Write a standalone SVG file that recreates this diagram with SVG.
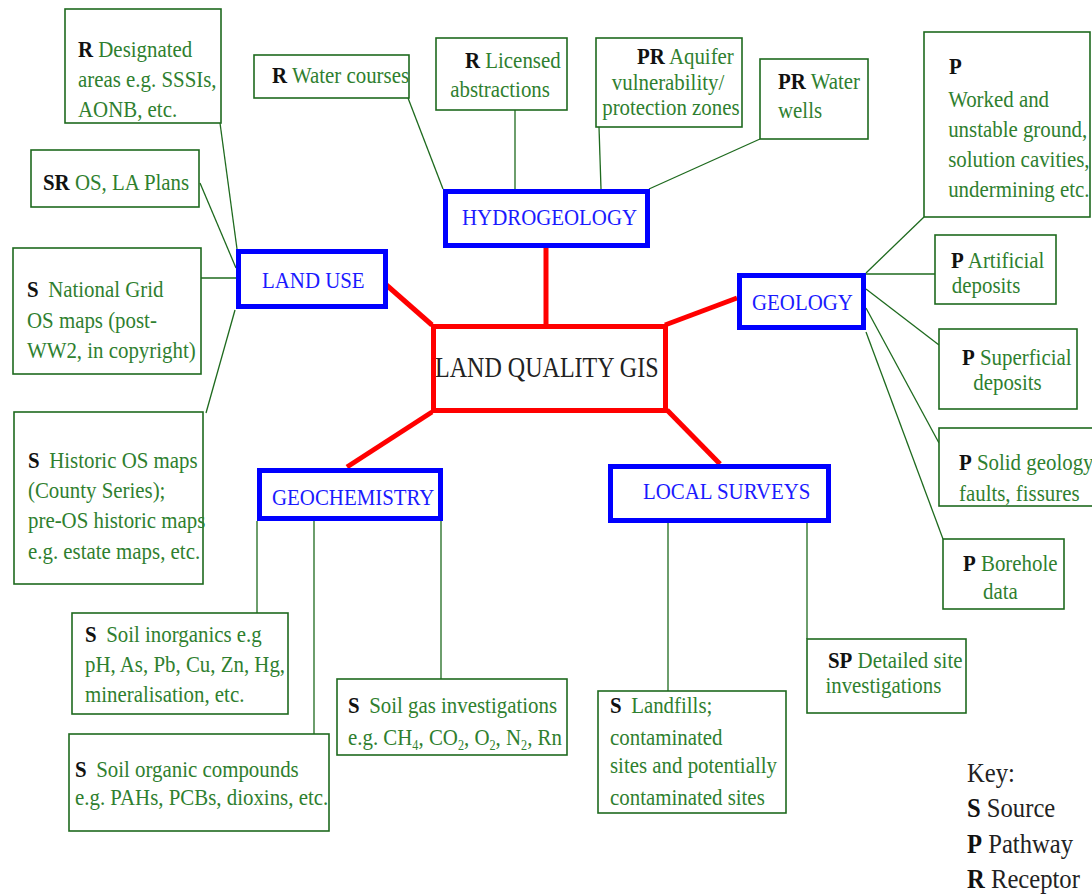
<svg xmlns="http://www.w3.org/2000/svg" width="1092" height="894" viewBox="0 0 1092 894">
<style>
.box{fill:#fff;stroke:#1e6a1e;stroke-width:1.6}
.hub{fill:#fff;stroke:#0000ff;stroke-width:5}
.core{fill:#fff;stroke:#ff0000;stroke-width:5}
.t{font-family:"Liberation Serif","Times New Roman",serif;font-size:24px;fill:#2f7f2f}
.b{font-weight:bold;fill:#111}
.ht{font-family:"Liberation Serif","Times New Roman",serif;font-size:24px;fill:#1a1aff}
.ct{font-family:"Liberation Serif","Times New Roman",serif;font-size:29px;fill:#222}
.kt{font-family:"Liberation Serif","Times New Roman",serif;font-size:28px;fill:#222}
.sub{font-size:14px}
.gl{stroke:#1e6a1e;stroke-width:1.3;fill:none}
.rl{stroke:#ff0000;stroke-width:5;fill:none}
</style>
<rect width="1092" height="894" fill="#fff"/>
<g id="connectors">
<line class="gl" x1="220" y1="123" x2="237" y2="249"/>
<line class="gl" x1="200" y1="183" x2="236" y2="268"/>
<line class="gl" x1="198" y1="278" x2="236" y2="278"/>
<line class="gl" x1="235" y1="310" x2="206" y2="413"/>
<line class="gl" x1="408" y1="98" x2="443" y2="189"/>
<line class="gl" x1="515" y1="110" x2="515" y2="189"/>
<line class="gl" x1="599" y1="127" x2="601" y2="189"/>
<line class="gl" x1="760" y1="139" x2="649" y2="189"/>
<line class="gl" x1="924" y1="217" x2="866" y2="273"/>
<line class="gl" x1="866" y1="274" x2="935" y2="274"/>
<line class="gl" x1="866" y1="289" x2="939" y2="345"/>
<line class="gl" x1="866" y1="308" x2="939" y2="443"/>
<line class="gl" x1="866" y1="332" x2="943" y2="539"/>
<line class="gl" x1="257" y1="521" x2="257" y2="613"/>
<line class="gl" x1="314" y1="521" x2="314" y2="734"/>
<line class="gl" x1="441" y1="521" x2="441" y2="679"/>
<line class="gl" x1="668" y1="523" x2="668" y2="691"/>
<line class="gl" x1="807" y1="516" x2="807" y2="639"/>
<line class="rl" x1="383" y1="282" x2="432" y2="325"/>
<line class="rl" x1="546" y1="248" x2="546" y2="326"/>
<line class="rl" x1="665" y1="325" x2="737" y2="298"/>
<line class="rl" x1="432" y1="412" x2="347" y2="467"/>
<line class="rl" x1="667" y1="410" x2="720" y2="464"/>
</g>
<g id="n-designated">
<rect class="box" x="65" y="9" width="156" height="114"/>
<text class="t" transform="translate(78 0) scale(.87 1)"><tspan x="0" y="57"><tspan class="b">R</tspan> Designated</tspan><tspan x="0" y="87">areas e.g. SSSIs,</tspan><tspan x="0" y="117">AONB, etc.</tspan></text>
</g>
<g id="n-watercourses">
<rect class="box" x="254" y="55" width="155" height="43"/>
<text class="t" transform="translate(272 0) scale(.87 1)"><tspan x="0" y="83"><tspan class="b">R</tspan> Water courses</tspan></text>
</g>
<g id="n-osplans">
<rect class="box" x="31" y="150" width="168" height="57"/>
<text class="t" transform="translate(43 0) scale(.87 1)"><tspan x="0" y="190"><tspan class="b">SR</tspan> OS, LA Plans</tspan></text>
</g>
<g id="n-nationalgrid">
<rect class="box" x="13" y="248" width="188" height="126"/>
<text class="t" transform="translate(27 0) scale(.87 1)"><tspan x="0" y="297"><tspan class="b">S</tspan><tspan dx="5"> National Grid</tspan></tspan><tspan x="0" y="328">OS maps (post-</tspan><tspan x="0" y="358">WW2, in copyright)</tspan></text>
</g>
<g id="n-historic">
<rect class="box" x="14" y="412" width="189" height="172"/>
<text class="t" transform="translate(28 0) scale(.87 1)"><tspan x="0" y="468"><tspan class="b">S</tspan><tspan dx="5"> Historic OS maps</tspan></tspan><tspan x="0" y="498">(County Series);</tspan><tspan x="0" y="528">pre-OS historic maps</tspan><tspan x="0" y="559">e.g. estate maps, etc.</tspan></text>
</g>
<g id="n-licensed">
<rect class="box" x="436" y="38" width="131" height="72"/>
<text class="t" transform="translate(465 0) scale(.87 1)"><tspan x="0" y="68"><tspan class="b">R</tspan> Licensed</tspan><tspan x="-17" y="97">abstractions</tspan></text>
</g>
<g id="n-aquifer">
<rect class="box" x="596" y="38" width="146" height="89"/>
<text class="t" transform="translate(637 0) scale(.87 1)"><tspan x="0" y="64"><tspan class="b">PR</tspan> Aquifer</tspan><tspan x="-29" y="90">vulnerability/</tspan><tspan x="-40" y="115">protection zones</tspan></text>
</g>
<g id="n-waterwells">
<rect class="box" x="760" y="59" width="108" height="80"/>
<text class="t" transform="translate(778 0) scale(.87 1)"><tspan x="0" y="89"><tspan class="b">PR</tspan> Water</tspan><tspan x="0" y="118">wells</tspan></text>
</g>
<g id="n-worked">
<rect class="box" x="924" y="32" width="166" height="185"/>
<text class="t" transform="translate(949 0) scale(.87 1)"><tspan class="b" x="0" y="74">P</tspan><tspan x="-1" y="107">Worked and</tspan><tspan x="-1" y="137">unstable ground,</tspan><tspan x="-1" y="167">solution cavities,</tspan><tspan x="-1" y="197">undermining etc.</tspan></text>
</g>
<g id="n-artificial">
<rect class="box" x="935" y="235" width="121" height="69"/>
<text class="t" transform="translate(951 0) scale(.87 1)"><tspan x="0" y="268"><tspan class="b">P</tspan> Artificial</tspan><tspan x="1" y="293">deposits</tspan></text>
</g>
<g id="n-superficial">
<rect class="box" x="939" y="329" width="138" height="80"/>
<text class="t" transform="translate(962 0) scale(.87 1)"><tspan x="0" y="365"><tspan class="b">P</tspan> Superficial</tspan><tspan x="13" y="390">deposits</tspan></text>
</g>
<g id="n-solid">
<rect class="box" x="939" y="428" width="160" height="78"/>
<text class="t" transform="translate(959 0) scale(.87 1)"><tspan x="0" y="470"><tspan class="b">P</tspan> Solid geology</tspan><tspan x="0" y="501">faults, fissures</tspan></text>
</g>
<g id="n-borehole">
<rect class="box" x="943" y="539" width="121" height="70"/>
<text class="t" transform="translate(963 0) scale(.87 1)"><tspan x="0" y="571"><tspan class="b">P</tspan> Borehole</tspan><tspan x="23" y="599">data</tspan></text>
</g>
<g id="n-inorganics">
<rect class="box" x="72" y="613" width="216" height="101"/>
<text class="t" transform="translate(85 0) scale(.87 1)"><tspan x="0" y="642"><tspan class="b">S</tspan><tspan dx="5"> Soil inorganics e.g</tspan></tspan><tspan x="0" y="672">pH, As, Pb, Cu, Zn, Hg,</tspan><tspan x="0" y="702">mineralisation, etc.</tspan></text>
</g>
<g id="n-organic">
<rect class="box" x="69" y="734" width="260" height="97"/>
<text class="t" transform="translate(75 0) scale(.87 1)"><tspan x="0" y="777"><tspan class="b">S</tspan><tspan dx="5"> Soil organic compounds</tspan></tspan><tspan x="0" y="805">e.g. PAHs, PCBs, dioxins, etc.</tspan></text>
</g>
<g id="n-soilgas">
<rect class="box" x="337" y="679" width="230" height="76"/>
<text class="t" transform="translate(348 0) scale(.87 1)"><tspan x="0" y="713"><tspan class="b">S</tspan><tspan dx="5"> Soil gas investigations</tspan></tspan><tspan x="0" y="745">e.g. CH</tspan><tspan class="sub" dy="5">4</tspan><tspan dy="-5">, CO</tspan><tspan class="sub" dy="5">2</tspan><tspan dy="-5">, O</tspan><tspan class="sub" dy="5">2</tspan><tspan dy="-5">, N</tspan><tspan class="sub" dy="5">2</tspan><tspan dy="-5">, Rn</tspan></text>
</g>
<g id="n-landfills">
<rect class="box" x="598" y="691" width="188" height="122"/>
<text class="t" transform="translate(610 0) scale(.87 1)"><tspan x="0" y="713"><tspan class="b">S</tspan><tspan dx="5"> Landfills;</tspan></tspan><tspan x="0" y="745">contaminated</tspan><tspan x="0" y="773">sites and potentially</tspan><tspan x="0" y="805">contaminated sites</tspan></text>
</g>
<g id="n-detailed">
<rect class="box" x="807" y="639" width="159" height="74"/>
<text class="t" transform="translate(828 0) scale(.87 1)"><tspan x="0" y="668"><tspan class="b">SP</tspan> Detailed site</tspan><tspan x="-3" y="693">investigations</tspan></text>
</g>
<g id="n-landuse">
<rect class="hub" x="238.5" y="251.5" width="147" height="55"/>
<text class="ht" transform="translate(262 0) scale(.87 1)" y="288">LAND USE</text>
</g>
<g id="n-hydrogeology">
<rect class="hub" x="445.5" y="191.5" width="202" height="54"/>
<text class="ht" transform="translate(462 0) scale(.87 1)" y="225">HYDROGEOLOGY</text>
</g>
<g id="n-geology">
<rect class="hub" x="739.5" y="275.5" width="124" height="52"/>
<text class="ht" transform="translate(752 0) scale(.87 1)" y="310">GEOLOGY</text>
</g>
<g id="n-geochemistry">
<rect class="hub" x="259.5" y="470.5" width="181" height="48"/>
<text class="ht" transform="translate(272 0) scale(.87 1)" y="505">GEOCHEMISTRY</text>
</g>
<g id="n-localsurveys">
<rect class="hub" x="610.5" y="466.5" width="218" height="54"/>
<text class="ht" transform="translate(643 0) scale(.87 1)" y="499">LOCAL SURVEYS</text>
</g>
<g id="n-gis">
<rect class="core" x="433.5" y="326.5" width="232" height="84"/>
<text class="ct" transform="translate(435 0) scale(.83 1)" y="377">LAND QUALITY GIS</text>
</g>
<g id="key">
<text class="kt" transform="translate(967 0) scale(.88 1)"><tspan x="0" y="782">Key:</tspan><tspan x="0" y="817"><tspan class="b">S</tspan> Source</tspan><tspan x="0" y="853"><tspan class="b">P</tspan> Pathway</tspan><tspan x="0" y="888"><tspan class="b">R</tspan> Receptor</tspan></text>
</g>
</svg>
